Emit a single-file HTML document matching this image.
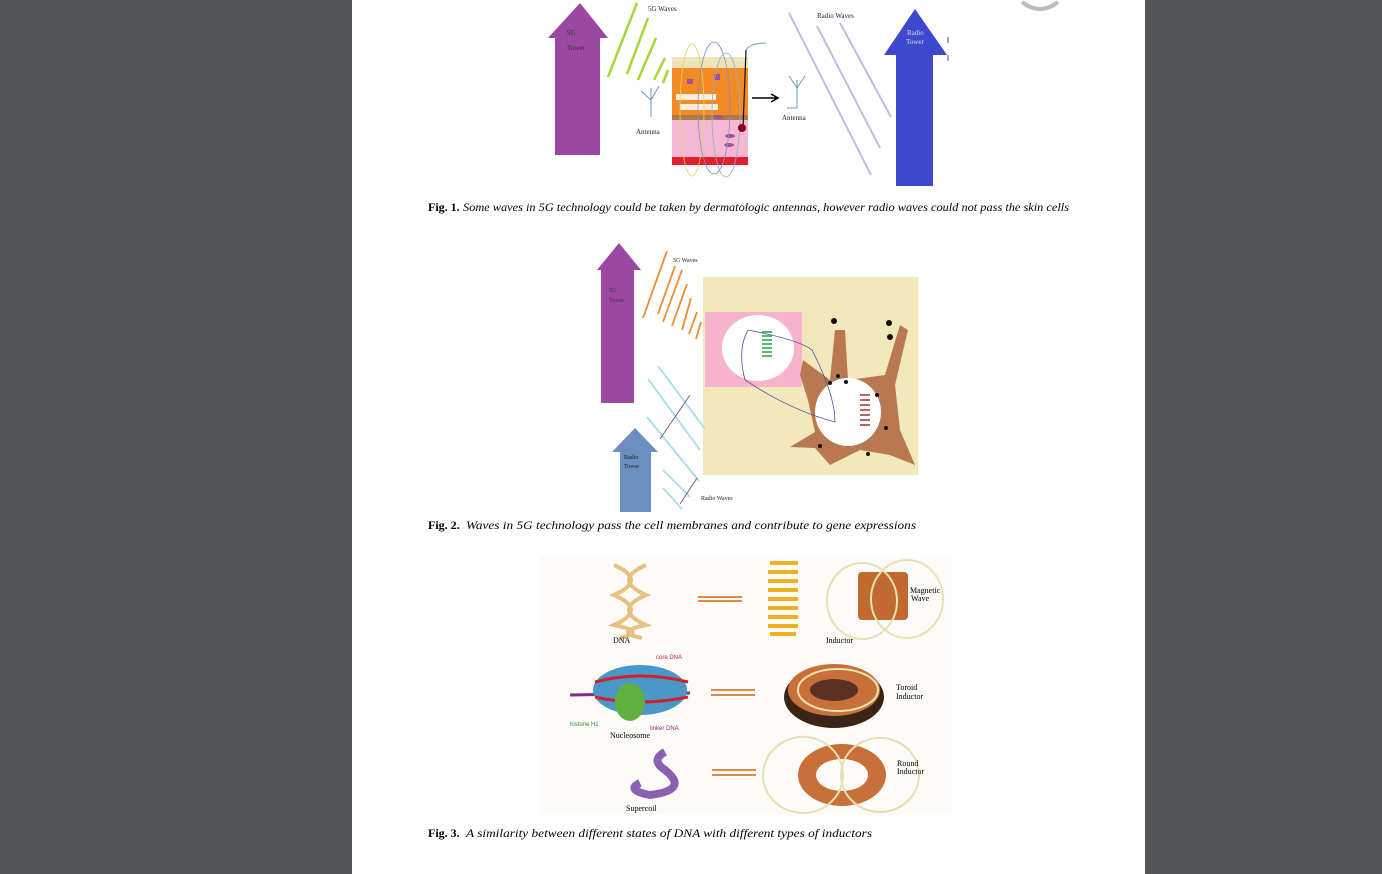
<!DOCTYPE html>
<html><head><style>
body{margin:0;background:#525659;width:1382px;height:874px;overflow:hidden;font-family:"Liberation Serif",serif}
svg{position:absolute;left:0;top:0}
</style></head><body>
<svg width="1382" height="874" viewBox="0 0 1382 874" font-family="Liberation Serif, serif">
<rect x="352" y="0" width="793" height="874" fill="#fff"/>
<path d="M1022 2 Q1040 16 1058 2" stroke="#bbb" stroke-width="4" fill="none"/>
<!-- FIG 1 -->
<polygon points="580,3 608,38 600,38 600,155 555,155 555,38 548,38" fill="#9b48a0"/>
<text x="567" y="35" font-size="7" fill="#333">5G</text><text x="567" y="50" font-size="7" fill="#333">Tower</text>
<text x="648" y="11" font-size="7" fill="#222">5G Waves</text>
<g stroke="#a8d63a" stroke-width="2.5"><line x1="637" y1="3" x2="608" y2="77"/><line x1="648" y1="18" x2="627" y2="74"/><line x1="656" y1="38" x2="638" y2="80"/><line x1="665" y1="58" x2="654" y2="80"/><line x1="668" y1="70" x2="663" y2="83"/></g>
<g stroke="#6a9ac0" stroke-width="1" fill="none"><path d="M651 88 L651 117 M641 91 L651 100 L659 86 M651 100 L651 88"/><path d="M797 80 L797 108 L787 108 M789 76 L797 88 L805 76"/></g>
<text x="636" y="134" font-size="7" fill="#222">Antenna</text>
<text x="782" y="120" font-size="7" fill="#222">Antenna</text>
<rect x="672" y="57" width="76" height="11" fill="#efe3b8"/>
<rect x="672" y="68" width="76" height="47" fill="#f48a24"/>
<rect x="672" y="115" width="76" height="5" fill="#b07848"/>
<rect x="672" y="120" width="76" height="37" fill="#f4b8d2"/>
<rect x="672" y="157" width="76" height="8" fill="#e02030"/>
<g fill="#fff" opacity=".85"><rect x="676" y="94" width="40" height="6"/><rect x="680" y="104" width="38" height="6"/></g>
<g fill="#a050a0"><rect x="687" y="79" width="6" height="5"/><rect x="714" y="74" width="6" height="6"/><ellipse cx="718" cy="117" rx="5" ry="2"/><ellipse cx="730" cy="136" rx="5" ry="2"/><ellipse cx="729" cy="145" rx="5" ry="2"/></g>
<g fill="none" stroke-width="0.8"><ellipse cx="692" cy="110" rx="12" ry="66" stroke="#d8d860"/><ellipse cx="714" cy="108" rx="16" ry="66" stroke="#8090c0"/><ellipse cx="726" cy="115" rx="14" ry="62" stroke="#90b0c8"/></g>
<line x1="746" y1="50" x2="743" y2="128" stroke="#111" stroke-width="1.2"/>
<path d="M746 50 Q750 43 766 43" stroke="#6aa0c0" fill="none"/>
<circle cx="742" cy="128" r="4" fill="#900018"/>
<path d="M752 98 L777 98 M771 94 L778 98 L771 102" stroke="#000" stroke-width="1.5" fill="none"/>
<text x="817" y="18" font-size="7" fill="#222">Radio Waves</text>
<g stroke="#c0bce0" stroke-width="2"><line x1="789" y1="13" x2="871" y2="175"/><line x1="817" y1="26" x2="880" y2="148"/><line x1="840" y1="23" x2="891" y2="117"/></g>
<polygon points="915,9 947,55 933,55 933,186 896,186 896,55 884,55" fill="#3d48cc"/>
<text x="907" y="35" font-size="7" fill="#dde">Radio</text><text x="906" y="44" font-size="7" fill="#dde">Tower</text>
<line x1="948" y1="37" x2="948" y2="43" stroke="#555"/><line x1="948" y1="55" x2="948" y2="61" stroke="#555"/>
<text x="428" y="211" font-size="12" font-weight="bold">Fig. 1.</text>
<text x="463" y="211" font-size="12" font-style="italic" textLength="606" lengthAdjust="spacingAndGlyphs">Some waves in 5G technology could be taken by dermatologic antennas, however radio waves could not pass the skin cells</text>
<!-- FIG 2 -->
<polygon points="619,243 641,270 634,270 634,403 601,403 601,270 597,270" fill="#9b48a0"/>
<text x="609" y="292" font-size="6" fill="#333">5G</text><text x="609" y="302" font-size="6" fill="#333">Tower</text>
<text x="673" y="262" font-size="6" fill="#222">5G Waves</text>
<g stroke="#f08a30" stroke-width="1.8"><line x1="667" y1="251" x2="643" y2="318"/><line x1="675" y1="266" x2="658" y2="314"/><line x1="682" y1="270" x2="663" y2="322"/><line x1="687" y1="284" x2="672" y2="326"/><line x1="691" y1="298" x2="682" y2="330"/><line x1="697" y1="312" x2="689" y2="334"/><line x1="701" y1="322" x2="696" y2="339"/></g>
<rect x="703" y="277" width="215" height="198" fill="#f3e8bc"/>
<rect x="705" y="312" width="97" height="75" fill="#f6b4cc"/>
<ellipse cx="758" cy="348" rx="36" ry="33" fill="#fff"/>
<g stroke="#20a040" stroke-width="1.5" fill="none"><path d="M762 332 h10 M762 336 h10 M762 340 h10 M762 344 h10 M762 348 h10 M762 352 h10 M762 356 h10"/></g>
<path d="M803 360 L830 380 L835 330 L845 330 L848 380 L885 375 L900 325 L908 330 L895 385 L900 430 L915 465 L890 455 L860 450 L830 465 L815 448 L790 447 L815 432 L808 400 L800 375 Z" fill="#b87850"/>
<ellipse cx="848" cy="412" rx="33" ry="34" fill="#fff"/>
<g stroke="#a03030" stroke-width="1.5"><path d="M860 395 h10 M860 400 h10 M860 405 h10 M860 410 h10 M860 415 h10 M860 420 h10 M860 425 h10"/></g>
<g fill="#111"><circle cx="834" cy="321" r="3"/><circle cx="889" cy="323" r="3"/><circle cx="890" cy="337" r="3"/><circle cx="838" cy="376" r="2"/><circle cx="830" cy="383" r="2"/><circle cx="877" cy="395" r="2"/><circle cx="886" cy="428" r="2"/><circle cx="868" cy="454" r="2"/><circle cx="820" cy="446" r="2"/><circle cx="846" cy="382" r="2"/></g>
<path d="M748 330 Q800 340 812 350 Q835 395 835 422 Q790 410 745 380 Q737 350 748 330" stroke="#5050a0" stroke-width=".8" fill="none"/>
<g stroke="#a8dcec" stroke-width="1.8"><line x1="658" y1="366" x2="705" y2="429"/><line x1="648" y1="379" x2="700" y2="450"/><line x1="647" y1="417" x2="699" y2="481"/><line x1="663" y1="470" x2="690" y2="497"/><line x1="663" y1="488" x2="682" y2="509"/></g>
<line x1="660" y1="439" x2="690" y2="395" stroke="#555" stroke-width=".8"/>
<line x1="680" y1="504" x2="697" y2="478" stroke="#555" stroke-width=".8"/>
<text x="701" y="500" font-size="6" fill="#222">Radio Waves</text>
<polygon points="635,428 658,452 651,452 651,512 620,512 620,452 612,452" fill="#6b8fbf"/>
<text x="624" y="459" font-size="6" fill="#222">Radio</text><text x="624" y="468" font-size="6" fill="#222">Tower</text>
<text x="428" y="529" font-size="12" font-weight="bold">Fig. 2.</text>
<text x="466" y="529" font-size="12" font-style="italic" textLength="450" lengthAdjust="spacingAndGlyphs">Waves in 5G technology pass the cell membranes and contribute to gene expressions</text>
<!-- FIG 3 -->
<rect x="540" y="557" width="412" height="258" fill="#fcfbf7"/>
<g stroke="#e8c080" stroke-width="4" fill="none"><path d="M614 565 Q648 580 614 595 Q648 610 614 625 Q648 632 620 638"/><path d="M646 565 Q612 580 646 595 Q612 610 646 625 Q612 632 642 638"/></g>
<text x="613" y="643" font-size="8">DNA</text>
<g stroke="#e08a40" stroke-width="2"><line x1="698" y1="597" x2="742" y2="597"/><line x1="698" y1="601" x2="742" y2="601"/><line x1="711" y1="690" x2="755" y2="690"/><line x1="711" y1="695" x2="755" y2="695"/><line x1="712" y1="770" x2="756" y2="770"/><line x1="712" y1="775" x2="756" y2="775"/></g>
<g stroke="#f2b020" stroke-width="4" fill="none"><path d="M770 563 h28 M768 572 h30 M768 581 h30 M768 590 h30 M768 599 h30 M768 608 h30 M768 617 h30 M768 626 h30 M770 634 h26"/></g>
<rect x="858" y="572" width="50" height="48" rx="4" fill="#c06a30"/>
<g stroke="#e8e0b0" stroke-width="2" fill="none"><ellipse cx="862" cy="601" rx="35" ry="38"/><ellipse cx="907" cy="599" rx="36" ry="39"/></g>
<text x="910" y="593" font-size="8">Magnetic</text><text x="911" y="601" font-size="8">Wave</text>
<text x="826" y="643" font-size="8">Inductor</text>
<path d="M570 695 L690 693" stroke="#8a2a80" stroke-width="3"/>
<ellipse cx="640" cy="690" rx="47" ry="25" fill="#4a98c8"/>
<path d="M595 682 Q640 670 688 682 M595 697 Q640 707 688 697" stroke="#d02030" stroke-width="3" fill="none"/>
<ellipse cx="630" cy="702" rx="15" ry="19" fill="#60b040"/>
<text x="656" y="659" font-size="6" fill="#d02030" font-family="Liberation Sans">core DNA</text>
<text x="570" y="726" font-size="6" fill="#3a8a40" font-family="Liberation Sans">histone H1</text>
<text x="650" y="730" font-size="6" fill="#8a2a80" font-family="Liberation Sans">linker DNA</text>
<text x="610" y="738" font-size="8">Nucleosome</text>
<ellipse cx="834" cy="697" rx="50" ry="31" fill="#3a2418"/>
<ellipse cx="834" cy="690" rx="46" ry="26" fill="#c8703a"/>
<ellipse cx="834" cy="690" rx="24" ry="11" fill="#5a3020"/>
<ellipse cx="838" cy="690" rx="40" ry="21" fill="none" stroke="#ece4b0" stroke-width="2"/>
<text x="896" y="690" font-size="8">Toroid</text><text x="896" y="699" font-size="8">Inductor</text>
<path d="M640 783 Q625 790 650 795 Q690 790 665 770 Q650 760 665 752" stroke="#8a60b0" stroke-width="8" fill="none"/>
<text x="626" y="811" font-size="8">Supercoil</text>
<ellipse cx="842" cy="775" rx="44" ry="31" fill="#c8703a"/>
<ellipse cx="842" cy="775" rx="26" ry="16" fill="#fcfbf7"/>
<g stroke="#e8e0b0" stroke-width="2" fill="none"><ellipse cx="803" cy="775" rx="40" ry="38"/><ellipse cx="880" cy="775" rx="39" ry="37"/></g>
<text x="897" y="766" font-size="8">Round</text><text x="897" y="774" font-size="8">Inductor</text>
<text x="428" y="837" font-size="12" font-weight="bold">Fig. 3.</text>
<text x="466" y="837" font-size="12" font-style="italic" textLength="406" lengthAdjust="spacingAndGlyphs">A similarity between different states of DNA with different types of inductors</text>
</svg>
</body></html>
